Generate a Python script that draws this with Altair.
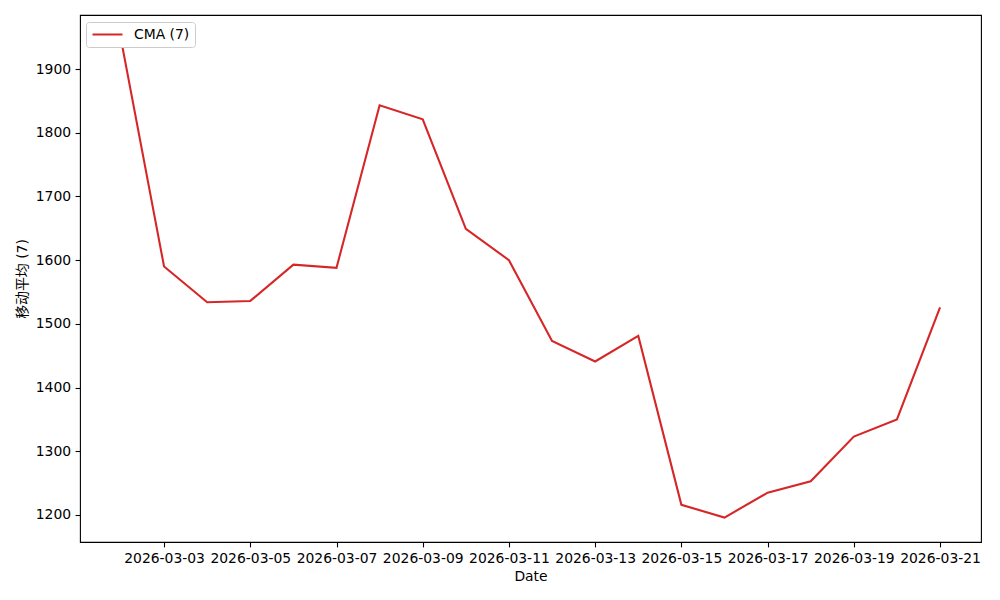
import altair as alt
import pandas as pd

dates = [
    "2026-03-02", "2026-03-03", "2026-03-04", "2026-03-05", "2026-03-06",
    "2026-03-07", "2026-03-08", "2026-03-09", "2026-03-10", "2026-03-11",
    "2026-03-12", "2026-03-13", "2026-03-14", "2026-03-15", "2026-03-16",
    "2026-03-17", "2026-03-18", "2026-03-19", "2026-03-20", "2026-03-21",
]
cma_values = [
    1947, 1590, 1534, 1536, 1593,
    1588, 1843, 1821, 1649, 1600,
    1473, 1441, 1481, 1216, 1196,
    1235, 1253, 1323, 1350, 1526,
]
series_name = "CMA (7)"
y_title = "移动平均 (7)"
x_title = "Date"
tick_days = [3, 5, 7, 9, 11, 13, 15, 17, 19, 21]
y_ticks = [1200, 1300, 1400, 1500, 1600, 1700, 1800, 1900]

df = pd.DataFrame({"date": dates, "value": cma_values, "series": series_name})

FONT = "DejaVu Sans, Noto Sans CJK SC"
FS = 13.9

x_axis = alt.Axis(
    values=[alt.DateTime(year=2026, month=3, date=d, utc=True) for d in tick_days],
    labelExpr="utcFormat(datum.value, '%Y-%m-%d')",
    grid=False,
    domain=False,
    tickColor="black",
    tickSize=4.9,
    tickWidth=1.1,
    labelPadding=4.5,
    labelFont=FONT,
    labelFontSize=FS,
    labelColor="black",
    labelOverlap=False,
    labelFlush=False,
    title=x_title,
    titleFont=FONT,
    titleFontSize=FS,
    titleFontWeight="normal",
    titleColor="black",
    titlePadding=4,
)

y_axis = alt.Axis(
    values=y_ticks,
    format="d",
    grid=False,
    domain=False,
    tickColor="black",
    tickSize=4.9,
    tickWidth=1.1,
    labelPadding=4.5,
    labelFont=FONT,
    labelFontSize=FS,
    labelColor="black",
    title=y_title,
    titleFont=FONT,
    titleFontSize=FS,
    titleFontWeight="normal",
    titleColor="black",
    titlePadding=6,
)

chart = (
    alt.Chart(df)
    .mark_line(strokeWidth=2.1, clip=True)
    .encode(
        x=alt.X(
            "date:T",
            axis=x_axis,
            scale=alt.Scale(
                type="utc",
                domain=[
                    alt.DateTime(year=2026, month=3, date=1, hours=1, minutes=12, utc=True),
                    alt.DateTime(year=2026, month=3, date=21, hours=22, minutes=48, utc=True),
                ],
                nice=False,
            ),
        ),
        y=alt.Y(
            "value:Q",
            axis=y_axis,
            scale=alt.Scale(domain=[1157.6, 1984.8], nice=False, zero=False),
        ),
        color=alt.Color(
            "series:N",
            scale=alt.Scale(domain=[series_name], range=["#d62728"]),
            legend=alt.Legend(
                title=None,
                orient="none",
                legendX=6,
                legendY=7,
                symbolType="stroke",
                symbolSize=900,
                symbolStrokeWidth=2.1,
                clipHeight=15,
                labelFont=FONT,
                labelFontSize=FS,
                labelColor="black",
                labelOffset=10,
                padding=5,
                strokeColor="#cccccc",
                fillColor="white",
                cornerRadius=3,
            ),
        ),
    )
    .properties(
        width=901,
        height=527,
        autosize=alt.AutoSizeParams(type="none"),
        padding={"left": 72, "top": 7, "right": 10, "bottom": 50},
        background="white",
    )
    .configure_view(stroke="black", strokeWidth=1.1)
)

chart.save("out.html", embed_options={"renderer": "svg", "actions": False})
